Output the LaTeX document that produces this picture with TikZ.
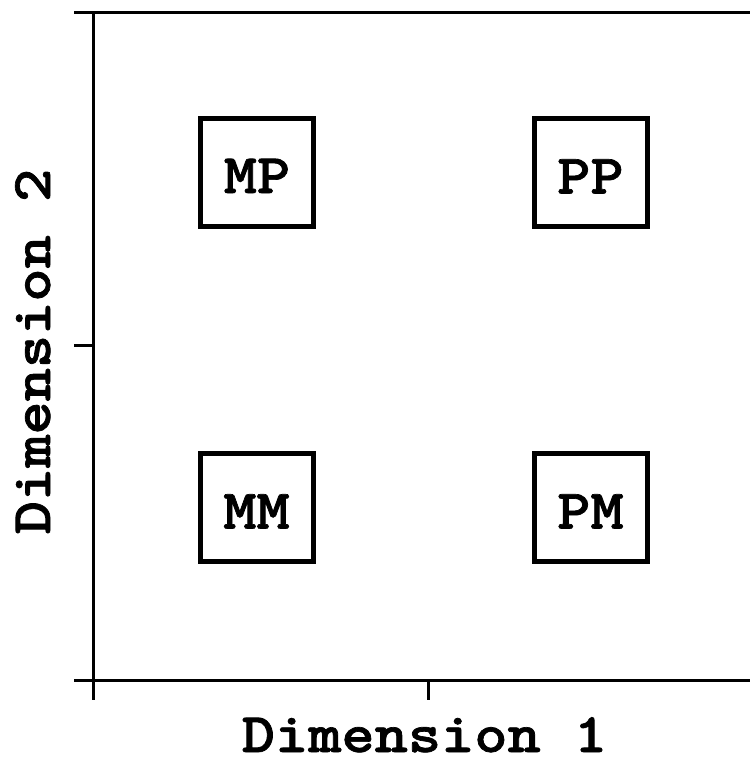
\documentclass[tikz,border=0pt]{standalone}
\usepackage{fontspec}
\newfontfamily\plotface{lmmonolt10-bold.otf}[FakeBold=1.2]
\newcommand{\plotfont}{\plotface\bfseries\fontsize{56}{60}\selectfont}
\newcommand{\widen}[1]{\scalebox{1.13}[1]{#1}}
\begin{document}
\begin{tikzpicture}[x=1pt,y=-1pt,
  axisline/.style={line width=3pt,black},
  catbox/.style={draw=black,line width=5pt,rectangle,inner sep=0pt,
    minimum width=113pt,minimum height=108pt,
    text height=42pt,text depth=0pt,font=\plotfont},
  axislabel/.style={inner sep=0pt,anchor=base,text depth=0pt,font=\plotfont}]
\useasboundingbox (0,0) rectangle (750,758);
% axes
\coordinate (tl) at (93,12);
\coordinate (bl) at (93,680);
\coordinate (tr) at (750,12);
\coordinate (br) at (750,680);
\draw[axisline] (tl) -- (bl);
\draw[axisline] (74,12) -- (tr);
\draw[axisline] (74,680) -- (br);
\draw[axisline] (74,345) -- (93,345);
\draw[axisline] (93,680) -- (93,700);
\draw[axisline] (428,680) -- (428,700);
% boxes
\node[catbox] (MP) at (257,172) {\widen{MP}};
\node[catbox] (PP) at (590.5,172.5) {\widen{PP}};
\node[catbox] (MM) at (256.5,507.5) {\widen{MM}};
\node[catbox] (PM) at (590.5,507.5) {\widen{PM}};
% axis labels
\node[axislabel] (d1) at (424.5,752) {\widen{Dimension 1}};
\node[axislabel,rotate=90] (d2) at (50,351.5) {\widen{Dimension 2}};
\end{tikzpicture}
\end{document}
